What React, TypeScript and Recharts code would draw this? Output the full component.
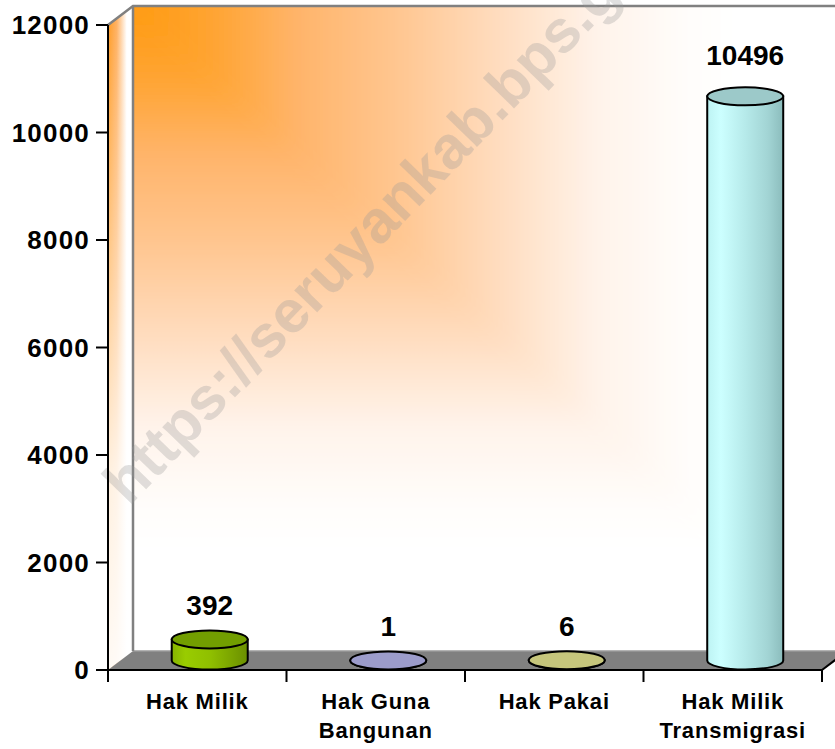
import React from 'react';
import { BarChart, Bar, XAxis, YAxis, ReferenceArea, LabelList } from 'recharts';

const categories = ['Hak Milik', 'Hak Guna Bangunan', 'Hak Pakai', 'Hak Milik Transmigrasi'];
const categoryLines = [['Hak Milik'], ['Hak Guna', 'Bangunan'], ['Hak Pakai'], ['Hak Milik', 'Transmigrasi']];
const values = [392, 1, 6, 10496];
const yTicks = [0, 2000, 4000, 6000, 8000, 10000, 12000];
const watermark = 'https://seruyankab.bps.go.id';

const palette = [
  { top: '#729E00', stops: ['#86B300', '#99CC00', '#90C000', '#7AA300', '#6A8F00'] },
  { top: '#9C9CCB', stops: ['#8C8CC0', '#A6A6D8', '#9A9ACC', '#8A8ABB', '#7C7CAA'] },
  { top: '#C6C67C', stops: ['#B8B870', '#D4D488', '#C8C87C', '#B4B46C', '#A0A05E'] },
  { top: '#9CC9C9', stops: ['#BDF3F3', '#CCFFFF', '#B6EAEA', '#A2D4D4', '#8BBCBC'] },
];

const data = categories.map((c, i) => ({ name: c, value: values[i] }));

const W = 835;
const H = 749;
const MARGIN = { top: 25, right: 13, bottom: 0, left: 8 };
const Y_W = 100;
const X_H = 79;
const DX = 25;
const DY = 19;
const FONT = '"Liberation Sans", Arial, Helvetica, sans-serif';
const PLOT_W = W - MARGIN.left - Y_W - MARGIN.right;
const BAND = PLOT_W / categories.length;

const wallStops = [
  [0, '#FF9A10'],
  [0.12, '#FFA535'],
  [0.23, '#FFB46A'],
  [0.37, '#FFC690'],
  [0.51, '#FFDCBE'],
  [0.65, '#FFF3EA'],
  [0.78, '#FFFDFB'],
  [0.85, '#FFFFFF'],
  [1, '#FFFFFF'],
];

function Wall(props: any) {
  const { x, y, width, height } = props;
  const bx = x + DX;
  const by = y - DY;
  const bw = width;
  const bh = height;
  const fy = y + height;
  const k = 0.15;
  const A = [bx - k * bw, by - k * bh];
  const B = [bx + (1 + k) * bw, by + (1 + k) * bh];
  const wx = x + 290;
  const wy = y + 174;
  return (
    <g>
      <defs>
        <linearGradient id="wallH" gradientUnits="userSpaceOnUse" x1={bx} y1={0} x2={bx + bw} y2={0}>
          {wallStops.map(([o, c]) => <stop key={String(o)} offset={o as number} stopColor={c as string} />)}
        </linearGradient>
        <linearGradient id="wallV" gradientUnits="userSpaceOnUse" x1={0} y1={by} x2={0} y2={by + bh}>
          {wallStops.map(([o, c]) => <stop key={String(o)} offset={o as number} stopColor={c as string} />)}
        </linearGradient>
        <linearGradient id="sideH" x1="0" y1="0" x2="1" y2="0">
          <stop offset="0" stopColor="#FF9A20" />
          <stop offset="0.35" stopColor="#FFB060" />
          <stop offset="0.75" stopColor="#FFFFFF" />
          <stop offset="1" stopColor="#FFFFFF" />
        </linearGradient>
        <linearGradient id="sideFade" x1="0" y1="0" x2="0" y2="1">
          <stop offset="0" stopColor="#FFFFFF" stopOpacity="0" />
          <stop offset="0.7" stopColor="#FFFFFF" stopOpacity="0.85" />
          <stop offset="1" stopColor="#FFFFFF" stopOpacity="0.95" />
        </linearGradient>
        <clipPath id="wallClip">
          <rect x={bx} y={by} width={bw} height={bh} />
        </clipPath>
        <filter id="wallBlur" x="-10%" y="-10%" width="120%" height="120%">
          <feGaussianBlur stdDeviation="9" />
        </filter>
      </defs>
      {/* back wall: max-metric corner gradient, softened */}
      <g clipPath="url(#wallClip)">
        <g filter="url(#wallBlur)">
          <polygon points={`${A[0]},${A[1]} ${B[0]},${A[1]} ${B[0]},${B[1]}`} fill="url(#wallH)" />
          <polygon points={`${A[0]},${A[1]} ${B[0]},${B[1]} ${A[0]},${B[1]}`} fill="url(#wallV)" />
        </g>
      </g>
      {/* left side wall */}
      <polygon points={`${x},${y} ${bx},${by} ${bx},${by + bh} ${x},${fy}`} fill="url(#sideH)" />
      <polygon points={`${x},${y} ${bx},${by} ${bx},${by + bh} ${x},${fy}`} fill="url(#sideFade)" />
      {/* floor */}
      <polygon
        points={`${x},${fy} ${x + width},${fy} ${x + width + DX},${fy - DY} ${bx},${fy - DY}`}
        fill="#808080"
      />
      <line x1={bx} y1={fy - DY} x2={x + width + DX} y2={fy - DY} stroke="#9A9A9A" strokeWidth={1.5} />
      <line x1={x + width} y1={fy} x2={x + width + DX} y2={fy - DY} stroke="#000" strokeWidth={2} />
      {/* wall edges */}
      <polyline
        points={`${x},${y} ${bx},${by} ${bx + bw},${by}`}
        fill="none"
        stroke="#808080"
        strokeWidth={2.5}
      />
      <line x1={bx} y1={by} x2={bx} y2={by + bh} stroke="#808080" strokeWidth={2.5} />
      {/* watermark */}
      <text
        x={wx}
        y={wy}
        textAnchor="middle"
        dominantBaseline="central"
        transform={`rotate(-46 ${wx} ${wy})`}
        fontFamily={FONT}
        fontWeight="bold"
        fontSize={60}
        fill="#999999"
        fillOpacity={0.3}
      >
        {watermark}
      </text>
    </g>
  );
}

function Cylinder(props: any) {
  const { x, y, width, height, index } = props;
  const c = palette[index];
  const rx = width / 2;
  const ry = 9;
  const cx = x + rx + DX / 2;
  const yTop = y - DY / 2;
  const yBot = y + height - DY / 2;
  const left = cx - rx;
  const right = cx + rx;
  const gid = `cyl-${index}`;
  return (
    <g>
      <defs>
        <linearGradient id={gid} x1="0" y1="0" x2="1" y2="0">
          <stop offset="0" stopColor={c.stops[0]} />
          <stop offset="0.18" stopColor={c.stops[1]} />
          <stop offset="0.5" stopColor={c.stops[2]} />
          <stop offset="0.8" stopColor={c.stops[3]} />
          <stop offset="1" stopColor={c.stops[4]} />
        </linearGradient>
      </defs>
      <path
        d={`M${left},${yTop} L${left},${yBot} A${rx},${ry} 0 0 0 ${right},${yBot} L${right},${yTop} Z`}
        fill={`url(#${gid})`}
        stroke="#000"
        strokeWidth={2}
      />
      <ellipse cx={cx} cy={yTop} rx={rx} ry={ry} fill={c.top} stroke="#000" strokeWidth={2} />
    </g>
  );
}

function ValueLabel(props: any) {
  const { x, y, width, height, value } = props;
  const cx = Number(x) + Number(width) / 2 + DX / 2;
  const cy = Number(y) - DY / 2;
  const base = cy - 24 - 8 * (Number(height) / 645);
  return (
    <text x={cx} y={base} textAnchor="middle" fontFamily={FONT} fontWeight="bold" fontSize={28} fill="#000">
      {value}
    </text>
  );
}

function XTick(props: any) {
  const { x, y, payload, index } = props;
  const lines = categoryLines[index] || [String(payload.value)];
  const ay = Number(y);
  return (
    <g>
      <line x1={x - BAND / 2} y1={ay} x2={x - BAND / 2} y2={ay + 12} stroke="#000" strokeWidth={2} />
      {index === categories.length - 1 && (
        <line x1={x + BAND / 2} y1={ay} x2={x + BAND / 2} y2={ay + 12} stroke="#000" strokeWidth={2} />
      )}
      {lines.map((l: string, i: number) => (
        <text
          key={i}
          x={x}
          y={ay + 39 + i * 28.5}
          textAnchor="middle"
          fontFamily={FONT}
          fontWeight="bold"
          fontSize={22}
          letterSpacing={0.8}
          fill="#000"
        >
          {l}
        </text>
      ))}
    </g>
  );
}

function YTick(props: any) {
  const { x, y, payload } = props;
  return (
    <text
      x={Number(x)}
      y={Number(y)}
      dy="0.355em"
      textAnchor="end"
      fontFamily={FONT}
      fontWeight="bold"
      fontSize={26}
      letterSpacing={1.2}
      fill="#000"
    >
      {payload.value}
    </text>
  );
}

export default function App() {
  return (
    <div style={{ position: 'absolute', left: 0, top: 0, width: W, height: H, background: '#fff' }}>
      <BarChart width={W} height={H} data={data} margin={MARGIN} barCategoryGap="28.7%">
        <XAxis
          dataKey="name"
          height={X_H}
          interval={0}
          tickLine={false}
          tickSize={0}
          tickMargin={0}
          axisLine={{ stroke: '#000', strokeWidth: 2 }}
          tick={<XTick />}
        />
        <YAxis
          width={Y_W}
          domain={[0, 12000]}
          ticks={yTicks}
          interval={0}
          tickSize={12}
          tickMargin={6}
          axisLine={{ stroke: '#000', strokeWidth: 2 }}
          tickLine={{ stroke: '#000', strokeWidth: 2 }}
          tick={<YTick />}
        />
        <ReferenceArea y1={0} y2={12000} shape={Wall} ifOverflow="visible" />
        <Bar dataKey="value" shape={Cylinder} isAnimationActive={false}>
          <LabelList dataKey="value" content={ValueLabel} />
        </Bar>
      </BarChart>
    </div>
  );
}
